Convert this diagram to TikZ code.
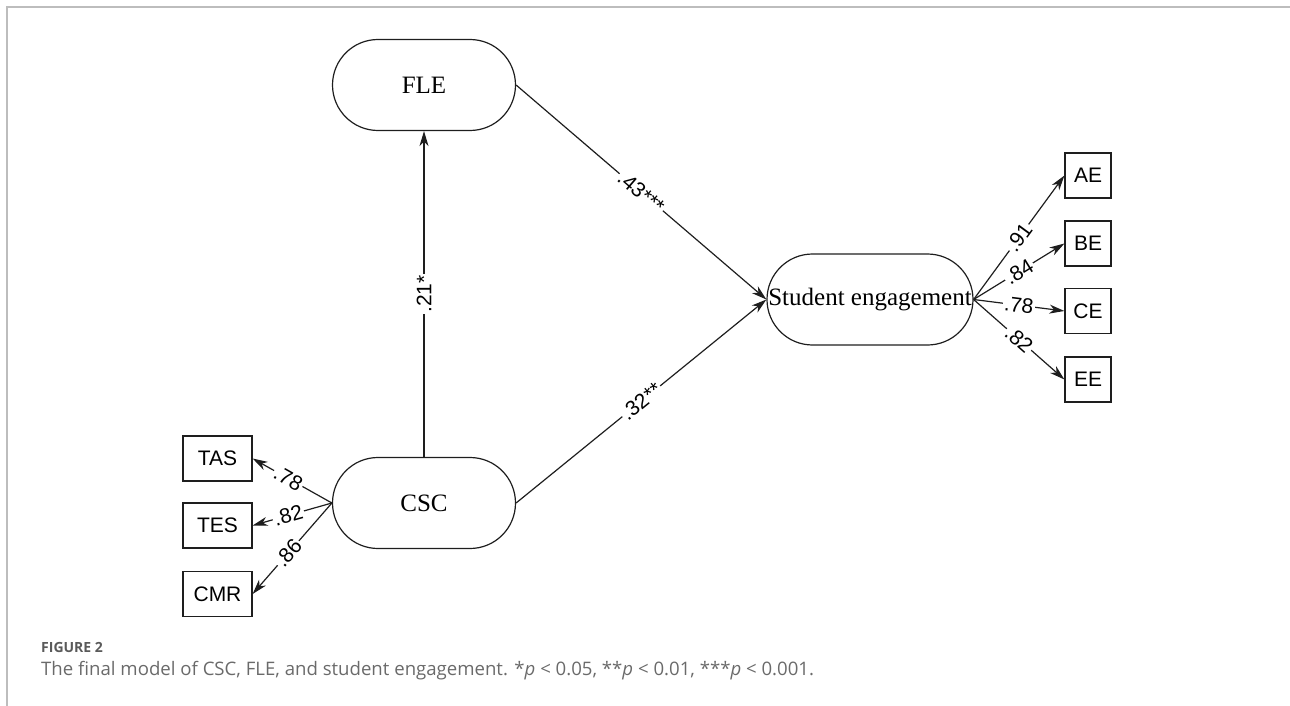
\documentclass[tikz,border=0pt]{standalone}
\usepackage{fontspec}
\setmainfont{Liberation Serif}
\setsansfont{Liberation Sans}
\newfontfamily\capfont{Open Sans}
\usetikzlibrary{arrows.meta}
\definecolor{linec}{HTML}{1E1E1E}
\definecolor{framec}{HTML}{BDBDBD}
\definecolor{capc}{HTML}{6A6A6A}
\definecolor{figc}{HTML}{5A5A5A}
\tikzset{
  latent/.style={draw=linec, line width=1.2pt, rounded corners=45.5pt, minimum height=91pt, inner sep=0pt, font=\fontsize{25}{29}\selectfont},
  obsbox/.style={draw=linec, line width=1.2pt, minimum height=45pt, inner sep=0pt, font=\sffamily\fontsize{21}{24}\selectfont},
  path/.style={draw=linec, line width=1.2pt, -{Stealth[length=15pt, width=9pt, inset=4.5pt]}},
  coef/.style={sloped, fill=white, inner sep=1.5pt, font=\sffamily\fontsize{21}{24}\selectfont}
}
\begin{document}
\begin{tikzpicture}[x=1pt, y=-1pt]
\useasboundingbox (0,0) rectangle (1290,706);
\draw[framec, line width=1.5pt] (7,706) -- (7,7) -- (1290,7);

\node[latent, minimum width=183pt] (fle) at (424,85) {FLE};
\node[latent, minimum width=183pt] (csc) at (424,503) {CSC};
\node[latent, minimum width=206pt] (se) at (870,299.5) {Student engagement};

\node[obsbox, minimum width=46pt] (ae) at (1088,175.5) {AE};
\node[obsbox, minimum width=46pt] (be) at (1088,243.5) {BE};
\node[obsbox, minimum width=46pt] (ce) at (1088,311) {CE};
\node[obsbox, minimum width=46pt] (ee) at (1088,379.5) {EE};

\node[obsbox, minimum width=69pt] (tas) at (217.5,458.5) {TAS};
\node[obsbox, minimum width=69pt] (tes) at (217.5,525.5) {TES};
\node[obsbox, minimum width=69pt] (cmr) at (217.5,594) {CMR};

\draw[path] (csc.north) -- node[coef, pos=0.5] {.21*} (fle.south);
\draw[path] (fle.east) -- node[coef, pos=0.5] {.43***} (se.west);
\draw[path] (csc.east) -- node[coef, pos=0.5] {.32**} (se.west);

\draw[path] (csc.west) -- node[coef, pos=0.55] {.78} (tas.east);
\draw[path] (csc.west) -- node[coef, pos=0.55] {.82} (tes.east);
\draw[path] (csc.west) -- node[coef, pos=0.55] {.86} (cmr.east);

\draw[path] (se.east) -- node[coef, pos=0.5] {.91} (ae.west);
\draw[path] (se.east) -- node[coef, pos=0.5] {.84} (be.west);
\draw[path] (se.east) -- node[coef, pos=0.5] {.78} (ce.west);
\draw[path] (se.east) -- node[coef, pos=0.5] {.82} (ee.west);

\node[anchor=base west, inner sep=0pt, text=figc, font=\capfont\bfseries\fontsize{14}{16}\selectfont] (figlab) at (41,652) {FIGURE 2};
\node[anchor=base west, inner sep=0pt, text=capc, font=\capfont\fontsize{18.6}{22}\selectfont] (caption) at (41,675) {The final model of CSC, FLE, and student engagement. *\textit{p} < 0.05, **\textit{p} < 0.01, ***\textit{p} < 0.001.};
\end{tikzpicture}
\end{document}
